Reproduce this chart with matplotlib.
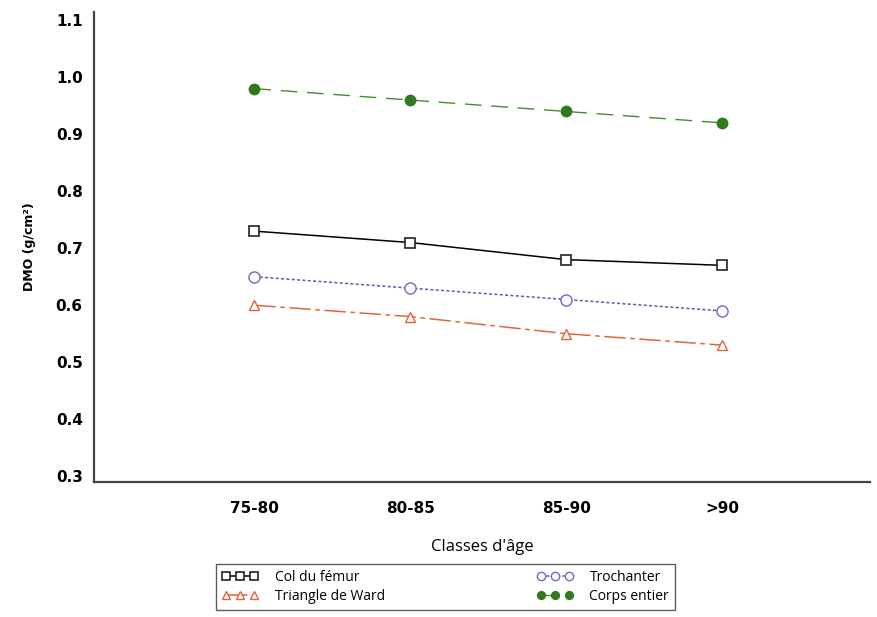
import matplotlib
matplotlib.use("Agg")
import matplotlib.pyplot as plt

# age classes and DMO values (g/cm2)
classes = ["75-80", "80-85", "85-90", ">90"]
col_femur = [0.73, 0.71, 0.68, 0.67]
trochanter = [0.65, 0.63, 0.61, 0.59]
ward = [0.60, 0.58, 0.55, 0.53]
corps = [0.98, 0.96, 0.94, 0.92]
yticks = [0.3, 0.4, 0.5, 0.6, 0.7, 0.8, 0.9, 1.0, 1.1]

fig = plt.figure(figsize=(8.77, 6.17), dpi=100)
ax = fig.add_axes([0.107, 0.219, 0.885, 0.762])

x = range(len(classes))
ax.plot(x, col_femur, color="black", lw=1.1, ls="-", marker="s", ms=7.5,
        mfc="white", mec="#222222", mew=1.2, label="Col du fémur")
ax.plot(x, trochanter, color="#5a5ab8", lw=1.1, ls=(0, (2, 1.5)), marker="o", ms=8,
        mfc="white", mec="#6a6ac8", mew=1.0, label="Trochanter")
ax.plot(x, ward, color="#e2643a", lw=1.1, ls=(0, (14, 3, 3, 3)), marker="^", ms=7.5,
        mfc="white", mec="#e2643a", mew=1.0, label="Triangle de Ward")
ax.plot(x, corps, color="#3f8f2e", lw=1.0, ls=(0, (12, 7)), marker="o", ms=7.5,
        mfc="#2f7a1e", mec="#2f7a1e", label="Corps entier")

ax.set_xlim(-1.03, 3.95)
ax.set_ylim(0.29, 1.115)
ax.set_xticks(list(x))
ax.set_xticklabels(classes)
ax.set_yticks(yticks)
ax.set_yticklabels([f"{v:.1f}" for v in yticks])
ax.tick_params(length=0, labelsize=11, pad=8)
for lab in ax.get_xticklabels() + ax.get_yticklabels():
    lab.set_fontweight("heavy")
ax.tick_params(axis="x", pad=14)

for s in ["top", "right"]:
    ax.spines[s].set_visible(False)
for s in ["left", "bottom"]:
    ax.spines[s].set_color("#444444")
    ax.spines[s].set_linewidth(1.6)

ax.set_ylabel("DMO (g/cm²)", fontsize=9, fontweight="bold", labelpad=14)
ax.set_xlabel("Classes d'âge", fontsize=12, family="Open Sans", labelpad=16)

h, l = ax.get_legend_handles_labels()
order = [0, 2, 1, 3]
leg = fig.legend([h[i] for i in order], [l[i] for i in order], ncol=2,
                 loc="lower left", bbox_to_anchor=(0.238, 0.0, 0.54, 0.088),
                 mode="expand", numpoints=3, handlelength=2.6, markerscale=0.75,
                 handletextpad=1.2, frameon=True, fancybox=False,
                 edgecolor="#333333", borderpad=0.45, labelspacing=0.25,
                 columnspacing=2.0, prop={"family": "Open Sans", "size": 10})
leg.get_frame().set_linewidth(1.0)

fig.savefig("out.png", dpi=100)
